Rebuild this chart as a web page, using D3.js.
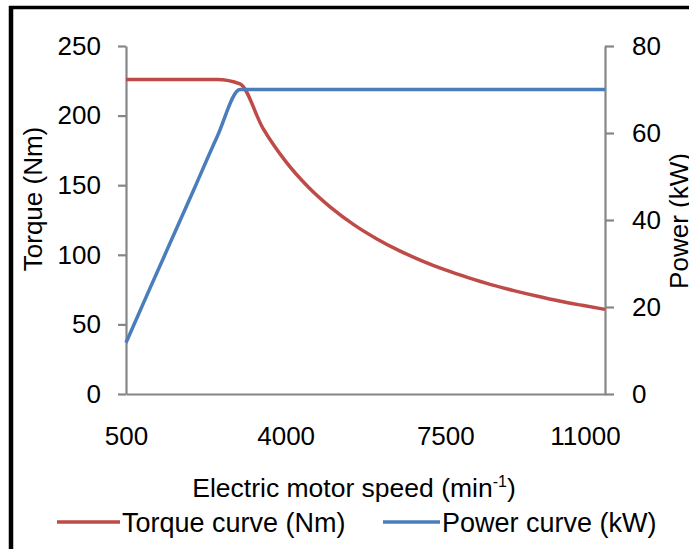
<!DOCTYPE html>
<html>
<head>
<meta charset="utf-8">
<script src="https://cdn.jsdelivr.net/npm/d3@7"></script>
<style>
  html, body { margin: 0; padding: 0; background: #fff; }
  svg { display: block; }
  text { font-family: "Liberation Sans", Arial, sans-serif; fill: #000; }
</style>
</head>
<body>
<svg id="chart" width="689" height="549"></svg>
<script>
// Motor speed (min^-1) sample points
const speeds = [500, 1000, 1500, 2000, 2500, 3000, 3500, 4000, 4500, 5000, 5500,
                6000, 6500, 7000, 7500, 8000, 8500, 9000, 9500, 10000, 10500, 11000];
// Torque (Nm) at each speed
const torque = [226, 226, 226, 226, 226, 222.8, 191.0, 167.1, 148.5, 133.7, 121.5,
                111.4, 102.8, 95.5, 89.1, 83.6, 78.6, 74.3, 70.4, 66.8, 63.7, 60.8];
// Power (kW) at each speed
const power = [11.8, 23.7, 35.5, 47.3, 59.2, 70, 70, 70, 70, 70, 70,
               70, 70, 70, 70, 70, 70, 70, 70, 70, 70, 70];

const xTicks = [500, 4000, 7500, 11000];
const torqueTicks = [0, 50, 100, 150, 200, 250];
const powerTicks = [0, 20, 40, 60, 80];

const seriesNames = ["Torque curve (Nm)", "Power curve (kW)"];
const seriesColors = ["#BE4B48", "#4A7EBB"];

const svg = d3.select("#chart");
const axisColor = "#868686";
const fontSize = 26;

// Plot area
const plotLeft = 126, plotRight = 605, plotTop = 46, plotBottom = 394;

const x = d3.scaleLinear().domain([500, 11000]).range([plotLeft, plotRight]);
const yT = d3.scaleLinear().domain([0, 250]).range([plotBottom, plotTop]);
const yP = d3.scaleLinear().domain([0, 80]).range([plotBottom, plotTop]);

// Outer frame (left and top edges)
svg.append("line").attr("x1", 11).attr("x2", 11).attr("y1", 6).attr("y2", 549)
  .attr("stroke", "#000").attr("stroke-width", 4.5);
svg.append("line").attr("x1", 9).attr("x2", 689).attr("y1", 7.5).attr("y2", 7.5)
  .attr("stroke", "#000").attr("stroke-width", 3.5);

function styleAxis(g) {
  g.select(".domain").attr("stroke", axisColor).attr("stroke-width", 2.2);
  g.selectAll(".tick line").attr("stroke", axisColor).attr("stroke-width", 2.2);
  g.selectAll("text").attr("font-size", fontSize).attr("fill", "#000")
    .attr("font-family", "'Liberation Sans', Arial, sans-serif");
}

// X axis; the last label is pulled inward so it stays inside the frame
svg.append("g").attr("transform", `translate(0,${plotBottom})`)
  .call(d3.axisBottom(x).tickValues(xTicks).tickSize(0).tickPadding(33).tickFormat(d3.format("d")))
  .call(styleAxis)
  .call(g => g.selectAll(".tick text").filter(d => d === 11000).attr("dx", -20));

// Left torque axis
svg.append("g").attr("transform", `translate(${plotLeft},0)`)
  .call(d3.axisLeft(yT).tickValues(torqueTicks).tickSize(8).tickSizeOuter(0).tickPadding(17))
  .call(styleAxis);

// Right power axis
svg.append("g").attr("transform", `translate(${plotRight},0)`)
  .call(d3.axisRight(yP).tickValues(powerTicks).tickSize(9).tickSizeOuter(0).tickPadding(18))
  .call(styleAxis);

// Series lines
const torqueLine = d3.line().x((d, i) => x(speeds[i])).y(d => yT(d)).curve(d3.curveMonotoneX);
const powerLine = d3.line().x((d, i) => x(speeds[i])).y(d => yP(d)).curve(d3.curveMonotoneX);

svg.append("path").datum(torque).attr("d", torqueLine)
  .attr("fill", "none").attr("stroke", seriesColors[0]).attr("stroke-width", 3.5)
  .attr("stroke-linejoin", "round");
svg.append("path").datum(power).attr("d", powerLine)
  .attr("fill", "none").attr("stroke", seriesColors[1]).attr("stroke-width", 3.5)
  .attr("stroke-linejoin", "round");

// Axis titles
svg.append("text")
  .attr("transform", "translate(42,199) rotate(-90)")
  .attr("text-anchor", "middle").attr("font-size", fontSize)
  .text("Torque (Nm)");

svg.append("text")
  .attr("transform", "translate(688,221) rotate(-90)")
  .attr("text-anchor", "middle").attr("font-size", fontSize)
  .text("Power (kW)");

const xt = svg.append("text")
  .attr("x", 354).attr("y", 497)
  .attr("text-anchor", "middle").attr("font-size", 26.5);
xt.append("tspan").text("Electric motor speed (min");
xt.append("tspan").attr("font-size", 16).attr("dy", -10).text("-1");
xt.append("tspan").attr("dy", 10).text(")");

// Legend
const legendItems = [
  { x1: 57, x2: 120, tx: 122 },
  { x1: 383, x2: 440, tx: 442 }
];
legendItems.forEach((it, i) => {
  svg.append("line").attr("x1", it.x1).attr("x2", it.x2).attr("y1", 522).attr("y2", 522)
    .attr("stroke", seriesColors[i]).attr("stroke-width", 3.5);
  svg.append("text").attr("x", it.tx).attr("y", 532).attr("font-size", 27)
    .text(seriesNames[i]);
});
</script>
</body>
</html>
